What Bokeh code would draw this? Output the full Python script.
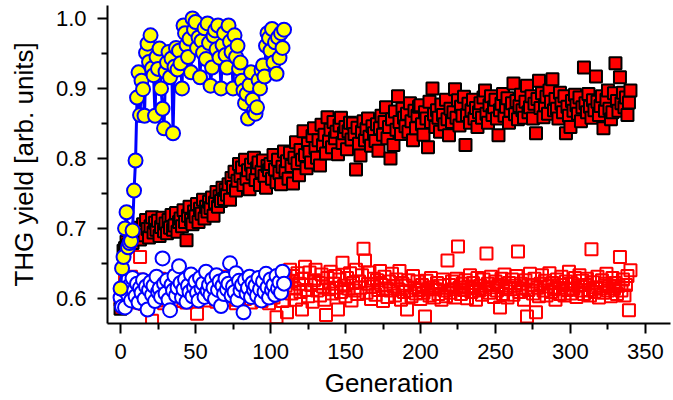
from bokeh.plotting import figure
from bokeh.models import FixedTicker, PrintfTickFormatter, Range1d
from bokeh.embed import file_html
from bokeh.resources import INLINE

# THG yield of the best individual per generation (filled squares)
best_sq = [
    0.585, 0.592, 0.668, 0.672, 0.681, 0.676, 0.688, 0.684, 0.679, 0.692,
    0.693, 0.688, 0.701, 0.684, 0.697, 0.706, 0.690, 0.712, 0.699, 0.687,
    0.703, 0.716, 0.694, 0.708, 0.698, 0.711, 0.689, 0.702, 0.715, 0.696,
    0.707, 0.693, 0.712, 0.701, 0.719, 0.698, 0.704, 0.722, 0.695, 0.709,
    0.714, 0.703, 0.726, 0.709, 0.683, 0.718, 0.731, 0.712, 0.706, 0.724,
    0.717, 0.735, 0.709, 0.728, 0.721, 0.741, 0.714, 0.731, 0.724, 0.738,
    0.729, 0.744, 0.718, 0.737, 0.752, 0.731, 0.746, 0.739, 0.758, 0.742,
    0.755, 0.748, 0.763, 0.741, 0.772, 0.759, 0.781, 0.754, 0.768, 0.792,
    0.775, 0.787, 0.762, 0.798, 0.771, 0.783, 0.756, 0.791, 0.778, 0.801,
    0.769, 0.786, 0.794, 0.762, 0.781, 0.797, 0.775, 0.758, 0.789, 0.783,
    0.792, 0.771, 0.805, 0.784, 0.766, 0.798, 0.779, 0.763, 0.788, 0.810,
    0.782, 0.796, 0.771, 0.808, 0.789, 0.764, 0.801, 0.823, 0.793, 0.776,
    0.812, 0.798, 0.839, 0.805, 0.786, 0.821, 0.809, 0.794, 0.832, 0.843,
    0.815, 0.801, 0.826, 0.790, 0.848, 0.819, 0.834, 0.807, 0.859, 0.825,
    0.841, 0.816, 0.852, 0.829, 0.838, 0.806, 0.847, 0.858, 0.822, 0.836,
    0.845, 0.813, 0.839, 0.851, 0.827, 0.850, 0.835, 0.784, 0.844, 0.821,
    0.804, 0.838, 0.853, 0.826, 0.842, 0.857, 0.831, 0.818, 0.846, 0.836,
    0.825, 0.849, 0.811, 0.843, 0.861, 0.834, 0.852, 0.873, 0.829, 0.845,
    0.800, 0.856, 0.819, 0.867, 0.841, 0.889, 0.852, 0.835, 0.871, 0.858,
    0.846, 0.864, 0.838, 0.879, 0.853, 0.826, 0.868, 0.843, 0.861, 0.874,
    0.876, 0.849, 0.834, 0.866, 0.857, 0.816, 0.881, 0.852, 0.900, 0.863,
    0.845, 0.869, 0.858, 0.838, 0.877, 0.862, 0.849, 0.884, 0.856, 0.833,
    0.871, 0.852, 0.866, 0.899, 0.858, 0.883, 0.847, 0.874, 0.861, 0.888,
    0.819, 0.862, 0.878, 0.851, 0.869, 0.884, 0.857, 0.872, 0.845, 0.866,
    0.879, 0.858, 0.887, 0.897, 0.864, 0.851, 0.876, 0.889, 0.862, 0.873,
    0.884, 0.857, 0.833, 0.869, 0.878, 0.892, 0.861, 0.874, 0.886, 0.851,
    0.868, 0.879, 0.907, 0.863, 0.882, 0.856, 0.875, 0.891, 0.869, 0.858,
    0.881, 0.904, 0.866, 0.873, 0.889, 0.857, 0.878, 0.836, 0.885, 0.911,
    0.872, 0.893, 0.859, 0.876, 0.888, 0.864, 0.897, 0.881, 0.913, 0.869,
    0.885, 0.871, 0.857, 0.894, 0.878, 0.866, 0.889, 0.836, 0.874, 0.861,
    0.845, 0.882, 0.868, 0.891, 0.876, 0.864, 0.887, 0.853, 0.873, 0.930,
    0.879, 0.866, 0.892, 0.874, 0.858, 0.883, 0.869, 0.917, 0.881, 0.862,
    0.875, 0.889, 0.843, 0.868, 0.884, 0.897, 0.871, 0.856, 0.866, 0.893,
    0.936, 0.882, 0.868, 0.916, 0.879, 0.894, 0.873, 0.887, 0.862, 0.880,
    0.897,
]

# THG yield averaged over the population per generation (open squares)
mean_sq = [
    0.598, 0.612, 0.589, 0.626, 0.603, 0.617, 0.594, 0.631, 0.608, 0.621,
    0.599, 0.614, 0.627, 0.659, 0.605, 0.619, 0.592, 0.611, 0.624, 0.601,
    0.616, 0.568, 0.609, 0.622, 0.597, 0.613, 0.628, 0.604, 0.618, 0.593,
    0.611, 0.625, 0.602, 0.615, 0.598, 0.621, 0.607, 0.632, 0.612, 0.596,
    0.619, 0.605, 0.627, 0.613, 0.594, 0.622, 0.609, 0.616, 0.601, 0.624,
    0.611, 0.578, 0.618, 0.603, 0.629, 0.614, 0.597, 0.621, 0.608, 0.615,
    0.626, 0.602, 0.613, 0.619, 0.595, 0.624, 0.609, 0.617, 0.631, 0.603,
    0.614, 0.622, 0.598, 0.611, 0.627, 0.606, 0.618, 0.593, 0.612, 0.625,
    0.604, 0.617, 0.629, 0.599, 0.613, 0.621, 0.608, 0.594, 0.616, 0.624,
    0.610, 0.601, 0.623, 0.615, 0.596, 0.628, 0.612, 0.605, 0.619, 0.593,
    0.614, 0.626, 0.601, 0.617, 0.573, 0.608, 0.622, 0.611, 0.596, 0.629,
    0.618, 0.580, 0.625, 0.641, 0.607, 0.632, 0.614, 0.598, 0.636, 0.621,
    0.609, 0.584, 0.628, 0.645, 0.612, 0.603, 0.637, 0.619, 0.595, 0.626,
    0.641, 0.611, 0.622, 0.604, 0.634, 0.617, 0.598, 0.576, 0.629, 0.613,
    0.638, 0.607, 0.621, 0.632, 0.615, 0.584, 0.627, 0.609, 0.651, 0.618,
    0.603, 0.629, 0.614, 0.636, 0.597, 0.622, 0.611, 0.641, 0.606, 0.624,
    0.615, 0.633, 0.671, 0.654, 0.608, 0.621, 0.637, 0.599, 0.617, 0.628,
    0.605, 0.626, 0.612, 0.639, 0.619, 0.596, 0.631, 0.614, 0.602, 0.624,
    0.611, 0.635, 0.617, 0.604, 0.627, 0.613, 0.639, 0.598, 0.621, 0.609,
    0.618, 0.584, 0.626, 0.611, 0.603, 0.632, 0.615, 0.607, 0.624, 0.612,
    0.599, 0.619, 0.608, 0.574, 0.625, 0.613, 0.604, 0.629, 0.616, 0.601,
    0.613, 0.622, 0.606, 0.618, 0.598, 0.627, 0.611, 0.603, 0.654, 0.619,
    0.608, 0.624, 0.613, 0.601, 0.628, 0.674, 0.615, 0.606, 0.621, 0.612,
    0.626, 0.600, 0.617, 0.633, 0.609, 0.622, 0.614, 0.598, 0.629, 0.611,
    0.618, 0.605, 0.627, 0.613, 0.664, 0.621, 0.608, 0.631, 0.616, 0.602,
    0.624, 0.611, 0.619, 0.587, 0.628, 0.606, 0.634, 0.615, 0.601, 0.622,
    0.613, 0.627, 0.605, 0.618, 0.632, 0.667, 0.609, 0.621, 0.614, 0.598,
    0.626, 0.574, 0.612, 0.635, 0.619, 0.607, 0.628, 0.580, 0.615, 0.603,
    0.621, 0.633, 0.611, 0.625, 0.604, 0.617, 0.636, 0.609, 0.622, 0.613,
    0.598, 0.627, 0.615, 0.606, 0.631, 0.619, 0.604, 0.624, 0.612, 0.638,
    0.607, 0.621, 0.614, 0.629, 0.602, 0.618, 0.633, 0.611, 0.625, 0.606,
    0.619, 0.628, 0.612, 0.604, 0.670, 0.623, 0.609, 0.616, 0.631, 0.601,
    0.614, 0.626, 0.608, 0.621, 0.635, 0.611, 0.617, 0.603, 0.629, 0.614,
    0.622, 0.606, 0.618, 0.659, 0.611, 0.627, 0.604, 0.619, 0.632, 0.583,
    0.640,
]

# Second run: best individual per generation (filled circles, joined)
best_circ = [
    0.614, 0.643, 0.659, 0.700, 0.723, 0.673, 0.679, 0.682, 0.697, 0.754,
    0.797, 0.887, 0.923, 0.862, 0.911, 0.899, 0.861, 0.951, 0.964, 0.938,
    0.976, 0.929, 0.919, 0.861, 0.945, 0.928, 0.957, 0.900, 0.871, 0.843,
    0.924, 0.937, 0.952, 0.916, 0.943, 0.836, 0.931, 0.958, 0.927, 0.954,
    0.936, 0.900, 0.990, 0.979, 0.962, 0.945, 0.971, 0.923, 1.000, 0.984,
    0.995, 0.958, 0.973, 0.916, 0.968, 0.951, 0.986, 0.942, 0.993, 0.965,
    0.904, 0.930, 0.975, 0.983, 0.956, 0.990, 0.944, 0.900, 0.962, 0.979,
    0.948, 0.930, 0.990, 0.967, 0.952, 0.900, 0.976, 0.945, 0.961, 0.928,
    0.937, 0.911, 0.897, 0.879, 0.892, 0.857, 0.905, 0.923, 0.884, 0.868,
    0.864, 0.873, 0.912, 0.900, 0.926, 0.933, 0.917, 0.961, 0.979, 0.972,
    0.954, 0.985, 0.937, 0.966, 0.921, 0.973, 0.944, 0.979, 0.958, 0.984,
]

# Second run: population average per generation (open circles)
mean_circ = [
    0.601, 0.588, 0.612, 0.587, 0.624, 0.605, 0.618, 0.597, 0.629, 0.611,
    0.603, 0.621, 0.594, 0.615, 0.608, 0.626, 0.599, 0.617, 0.584, 0.612,
    0.623, 0.605, 0.618, 0.596, 0.631, 0.609, 0.614, 0.602, 0.657, 0.621,
    0.607, 0.626, 0.598, 0.583, 0.619, 0.611, 0.632, 0.604, 0.615, 0.646,
    0.622, 0.601, 0.613, 0.627, 0.595, 0.618, 0.609, 0.634, 0.603, 0.616,
    0.624, 0.608, 0.597, 0.629, 0.614, 0.621, 0.602, 0.638, 0.611, 0.619,
    0.605, 0.627, 0.615, 0.599, 0.633, 0.612, 0.624, 0.589, 0.618, 0.606,
    0.628, 0.613, 0.621, 0.650, 0.604, 0.617, 0.609, 0.636, 0.598, 0.625,
    0.611, 0.619, 0.580, 0.626, 0.607, 0.615, 0.631, 0.602, 0.622, 0.612,
    0.618, 0.604, 0.629, 0.613, 0.597, 0.624, 0.609, 0.635, 0.616, 0.601,
    0.627, 0.612, 0.619, 0.605, 0.632, 0.614, 0.623, 0.608, 0.638, 0.621,
]

x_ticks = [0, 50, 100, 150, 200, 250, 300, 350]
x_minor = [25, 75, 125, 175, 225, 275, 325]
y_ticks = [0.6, 0.7, 0.8, 0.9, 1.0]
y_minor = [0.65, 0.75, 0.85, 0.95]

gen_sq = list(range(len(best_sq)))
gen_circ = list(range(len(best_circ)))

FONT = "Liberation Sans"

p = figure(
    width=673, height=400,
    output_backend="svg", toolbar_location=None,
    x_range=Range1d(-8.7, 366.7), y_range=Range1d(0.564, 1.0186),
    min_border_left=107, min_border_right=3,
    min_border_top=5, min_border_bottom=77,
)
p.outline_line_color = None
p.grid.visible = False

# population averages
p.scatter(gen_sq, mean_sq, marker="square", size=12,
          fill_color=None, line_color="#ff0000", line_width=2)
# best individuals, first run
p.scatter(gen_sq, best_sq, marker="square", size=12,
          fill_color="#ff0000", line_color="black", line_width=2)
# second run
p.scatter(gen_circ, mean_circ, marker="circle", size=14,
          fill_color="white", line_color="#0000ff", line_width=2)
p.line(gen_circ, best_circ, line_color="#0000ff", line_width=3)
p.scatter(gen_circ, best_circ, marker="circle", size=14,
          fill_color="#ffff00", line_color="#0000ff", line_width=2)

for ax in (p.xaxis[0], p.yaxis[0]):
    ax.axis_line_width = 2
    ax.major_tick_line_width = 2
    ax.minor_tick_line_width = 2
    ax.major_tick_in = 0
    ax.major_tick_out = 10
    ax.minor_tick_in = 0
    ax.minor_tick_out = 6
    ax.major_label_text_font = FONT
    ax.major_label_text_font_size = "22px"
    ax.major_label_text_color = "black"
    ax.axis_label_text_font = FONT
    ax.axis_label_text_font_size = "26px"
    ax.axis_label_text_font_style = "normal"
    ax.axis_label_text_color = "black"

p.xaxis.ticker = FixedTicker(ticks=x_ticks, minor_ticks=x_minor)
p.yaxis.ticker = FixedTicker(ticks=y_ticks, minor_ticks=y_minor)
p.yaxis.formatter = PrintfTickFormatter(format="%.1f")
p.xaxis.axis_label = "Generation"
p.yaxis.axis_label = "THG yield [arb. units]"
p.xaxis.major_label_standoff = 10
p.yaxis.major_label_standoff = 11
p.xaxis.axis_label_standoff = 6
p.yaxis.axis_label_standoff = 14

open("out.html", "w").write(file_html(p, INLINE))
